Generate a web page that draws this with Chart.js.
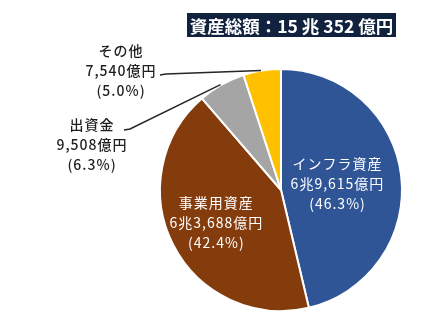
<!DOCTYPE html>
<html lang="ja">
<head>
<meta charset="utf-8">
<script src="https://cdn.jsdelivr.net/npm/chart.js@4/dist/chart.umd.min.js"></script>
<style>
  html, body { margin: 0; padding: 0; background: #ffffff; }
  #wrap { position: relative; width: 422px; height: 330px; }
</style>
</head>
<body>
<div id="wrap"><canvas id="c"></canvas></div>
<script>
// Asset breakdown (units: 億円)
const categories = ['インフラ資産', '事業用資産', '出資金', 'その他'];
const amounts = [69615, 63688, 9508, 7540];
const colors = ['#2F5597', '#843C0C', '#A5A5A5', '#FFC000'];
const totalTitle = '資産総額：15 兆 352 億円';

const FONT = '"Noto Sans CJK JP", "Noto Sans", sans-serif';
const total = amounts.reduce((a, b) => a + b, 0);

// 69615 -> "6兆9,615億円", 9508 -> "9,508億円"
function formatOku(v) {
  const cho = Math.floor(v / 10000);
  const rest = v % 10000;
  const restStr = rest.toLocaleString('en-US');
  return (cho > 0 ? cho + '兆' : '') + restStr + '億円';
}
function formatPct(v) {
  return '(' + (v / total * 100).toFixed(1) + '%)';
}

// Slice labels: inside ones sit on the slice, outside ones get a leader line
const labelPlugin = {
  id: 'sliceLabels',
  afterDatasetsDraw(chart) {
    const ctx = chart.ctx;
    const meta = chart.getDatasetMeta(0);
    const lineH = 20;
    ctx.save();
    ctx.textAlign = 'center';
    ctx.textBaseline = 'middle';
    if ('letterSpacing' in ctx) ctx.letterSpacing = '1px';

    const insideFactor = [0.47, 0.6];
    meta.data.forEach((arc, i) => {
      const p = arc.getProps(['x', 'y', 'startAngle', 'endAngle', 'outerRadius'], true);
      const mid = (p.startAngle + p.endAngle) / 2;
      const lines = [categories[i], formatOku(amounts[i]), formatPct(amounts[i])];
      if (i < 2) {
        const r = p.outerRadius * insideFactor[i];
        const cx = p.x + Math.cos(mid) * r;
        const cy = p.y + Math.sin(mid) * r;
        ctx.font = '14px ' + FONT;
        ctx.fillStyle = '#ffffff';
        lines.forEach((t, k) => ctx.fillText(t, cx, cy + (k - 1) * lineH));
      } else {
        // anchor point on the rim of the slice
        const ax = p.x + Math.cos(mid) * p.outerRadius;
        const ay = p.y + Math.sin(mid) * p.outerRadius;
        let tx, ty, lx, ly;
        if (i === 2) { tx = 92; ty = 145; lx = 124; ly = 130; }
        else { tx = 121; ty = 71; lx = 160; ly = 75; }
        ctx.font = '500 14px ' + FONT;
        ctx.fillStyle = '#1f1f1f';
        lines.forEach((t, k) => ctx.fillText(t, tx, ty + (k - 1) * lineH));
        ctx.strokeStyle = '#262626';
        ctx.lineWidth = 1.5;
        ctx.beginPath();
        ctx.moveTo(lx, ly);
        ctx.lineTo(lx + 6, ly - 1);
        ctx.lineTo(ax - 1, ay);
        ctx.stroke();
      }
    });

    // Total box
    ctx.letterSpacing = '0px';
    ctx.font = 'bold 17.5px ' + FONT;
    const bx = 187, by = 13, bw = 209, bh = 24;
    ctx.fillStyle = '#10223D';
    ctx.fillRect(bx, by, bw, bh);
    ctx.fillStyle = '#ffffff';
    ctx.fillText(totalTitle, bx + bw / 2, by + bh / 2 + 1);
    ctx.restore();
  }
};

new Chart(document.getElementById('c'), {
  type: 'pie',
  data: {
    labels: categories,
    datasets: [{
      data: amounts,
      backgroundColor: colors,
      borderColor: '#ffffff',
      borderWidth: 2
    }]
  },
  options: {
    responsive: true,
    maintainAspectRatio: false,
    animation: false,
    layout: { padding: { left: 159, right: 19, top: 68, bottom: 18 } },
    plugins: {
      legend: { display: false },
      tooltip: { enabled: false }
    }
  },
  plugins: [labelPlugin]
});
</script>
</body>
</html>
